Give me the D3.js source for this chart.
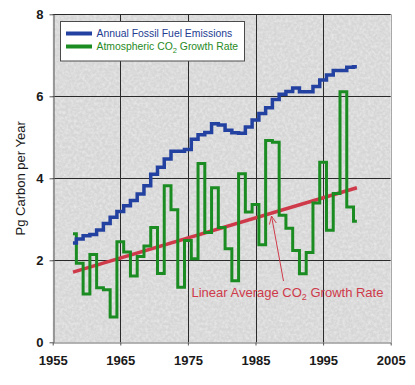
<!DOCTYPE html>
<html>
<head>
<meta charset="utf-8">
<script src="https://cdn.jsdelivr.net/npm/d3@7"></script>
<style>
  body { margin: 0; background: #fff; }
  svg { display: block; font-family: "Liberation Sans", Arial, sans-serif; }
</style>
</head>
<body>
<svg id="chart" width="415" height="385"></svg>
<script>
const years = d3.range(1958, 2001);
const fossilEmissions = [
  2.42, 2.52, 2.60, 2.63, 2.74, 2.90, 3.05, 3.19, 3.33, 3.46,
  3.62, 3.82, 4.10, 4.27, 4.47, 4.66, 4.66, 4.70, 4.95, 5.06,
  5.12, 5.33, 5.30, 5.17, 5.11, 5.10, 5.25, 5.42, 5.58, 5.72,
  5.92, 6.05, 6.12, 6.20, 6.11, 6.11, 6.24, 6.40, 6.52, 6.63,
  6.63, 6.71, 6.72
];
const co2Growth = [
  2.65, 1.93, 1.18, 2.14, 1.33, 1.28, 0.62, 2.45, 2.20, 1.62,
  2.09, 2.35, 2.80, 1.68, 3.82, 3.23, 1.34, 2.48, 2.04, 4.36,
  2.68, 3.77, 2.80, 2.28, 1.50, 4.11, 3.18, 3.36, 2.38, 4.92,
  4.88, 3.10, 2.78, 2.24, 1.67, 2.19, 3.40, 4.39, 2.73, 3.63,
  6.11, 3.30, 2.95
];
const trendYears = [1958, 2000];
const trendValues = [1.71, 3.77];
const xTicks = [1955, 1965, 1975, 1985, 1995, 2005];
const yTicks = [0, 2, 4, 6, 8];
const seriesNames = ['Annual Fossil Fuel Emissions', 'Atmospheric CO', ' Growth Rate'];

const colors = { blue: '#2341a0', green: '#1a8c22', red: '#cf3a4a' };

const svg = d3.select('#chart');
const x = d3.scaleLinear().domain([1955, 2005]).range([52.7, 390.7]);
const y = d3.scaleLinear().domain([0, 8]).range([342.3, 14.3]);

const defs = svg.append('defs');
const paper = defs.append('filter').attr('id', 'paper')
  .attr('x', 0).attr('y', 0).attr('width', 1).attr('height', 1);
paper.append('feTurbulence')
  .attr('type', 'fractalNoise')
  .attr('baseFrequency', 0.35)
  .attr('numOctaves', 3)
  .attr('seed', 7);
paper.append('feColorMatrix')
  .attr('type', 'matrix')
  .attr('values', '0 0 0 0 1  0 0 0 0 1  0 0 0 0 1  1.6 0 0 0 -0.55');

defs.append('marker')
  .attr('id', 'arrow')
  .attr('viewBox', '0 -5 10 10')
  .attr('refX', 9).attr('refY', 0)
  .attr('markerWidth', 9).attr('markerHeight', 9)
  .attr('markerUnits', 'userSpaceOnUse')
  .attr('orient', 'auto')
  .append('path')
  .attr('d', 'M0,-4L9,0L0,4')
  .attr('fill', 'none')
  .attr('stroke', colors.red)
  .attr('stroke-width', 1);

const [x0, x1] = x.range();
const [y0, y1] = y.range();

svg.append('rect')
  .attr('x', x0).attr('y', y1)
  .attr('width', x1 - x0).attr('height', y0 - y1)
  .attr('fill', '#d6d6d6');
svg.append('rect')
  .attr('x', x0).attr('y', y1)
  .attr('width', x1 - x0).attr('height', y0 - y1)
  .attr('filter', 'url(#paper)')
  .attr('opacity', 0.5);

// grid
svg.append('g')
  .selectAll('line.h')
  .data(yTicks.filter((d) => d > 0))
  .join('line')
  .attr('x1', x0).attr('x2', x1)
  .attr('y1', (d) => Math.round(y(d)) + 0.5)
  .attr('y2', (d) => Math.round(y(d)) + 0.5)
  .attr('stroke', '#2a2a2a');
svg.append('g')
  .selectAll('line.v')
  .data(xTicks.slice(1, -1))
  .join('line')
  .attr('x1', (d) => Math.round(x(d)) + 0.5)
  .attr('x2', (d) => Math.round(x(d)) + 0.5)
  .attr('y1', y1).attr('y2', y0)
  .attr('stroke', '#2a2a2a');
svg.append('line')
  .attr('x1', Math.round(x1) + 0.5).attr('x2', Math.round(x1) + 0.5)
  .attr('y1', y1).attr('y2', y0)
  .attr('stroke', '#a8a8a8');

// axes
const xAxis = svg.append('g')
  .attr('transform', `translate(0,${Math.round(y0) + 0.5})`)
  .call(d3.axisBottom(x).tickValues(xTicks).tickFormat(d3.format('d')).tickSize(3).tickPadding(10).tickSizeOuter(0));
const yAxis = svg.append('g')
  .attr('transform', `translate(${Math.round(x0) + 0.5},0)`)
  .call(d3.axisLeft(y).tickValues(yTicks).tickSize(4).tickPadding(6).tickSizeOuter(0));
[xAxis, yAxis].forEach((g) => {
  g.select('.domain').attr('stroke', '#6a6a6a').attr('stroke-width', 1.2);
  g.selectAll('.tick line').attr('stroke', '#555');
  g.selectAll('.tick text')
    .attr('font-family', '"Liberation Sans", Arial, sans-serif')
    .attr('font-size', 13)
    .attr('font-weight', 'bold')
    .attr('fill', '#1a1a1a');
});

svg.append('text')
  .attr('transform', `translate(25,${(y0 + y1) / 2}) rotate(-90)`)
  .attr('text-anchor', 'middle')
  .attr('font-size', 13)
  .attr('fill', '#1a1a1a')
  .text('Pg Carbon per Year');

// series
const step = d3.line()
  .x((d) => x(d[0]))
  .y((d) => y(d[1]))
  .curve(d3.curveStep);

svg.append('path')
  .datum(d3.zip(trendYears, trendValues))
  .attr('d', d3.line().x((d) => x(d[0])).y((d) => y(d[1])))
  .attr('fill', 'none')
  .attr('stroke', colors.red)
  .attr('stroke-width', 3.5);

svg.append('path')
  .datum(d3.zip(years, co2Growth))
  .attr('d', step)
  .attr('fill', 'none')
  .attr('stroke', colors.green)
  .attr('stroke-width', 3)
  .attr('stroke-linejoin', 'miter');

svg.append('path')
  .datum(d3.zip(years, fossilEmissions))
  .attr('d', step)
  .attr('fill', 'none')
  .attr('stroke', colors.blue)
  .attr('stroke-width', 3.5)
  .attr('stroke-linejoin', 'miter');

// annotation
svg.append('line')
  .attr('x1', 283.5).attr('y1', 281)
  .attr('x2', 271.5).attr('y2', 216)
  .attr('stroke', colors.red)
  .attr('stroke-width', 1)
  .attr('marker-end', 'url(#arrow)');

const note = svg.append('text')
  .attr('x', 191.5).attr('y', 296.5)
  .attr('font-size', 13)
  .attr('fill', colors.red);
note.append('tspan').text('Linear Average CO');
note.append('tspan').attr('font-size', 9).attr('dy', 3).text('2');
note.append('tspan').attr('dy', -3).text(' Growth Rate');

// legend
const legend = svg.append('g');
legend.append('rect')
  .attr('x', 60.5).attr('y', 21.5)
  .attr('width', 184).attr('height', 39.5)
  .attr('fill', '#fff')
  .attr('stroke', '#4a4a4a');
legend.append('line')
  .attr('x1', 66).attr('x2', 92)
  .attr('y1', 33.5).attr('y2', 33.5)
  .attr('stroke', colors.blue).attr('stroke-width', 4);
legend.append('line')
  .attr('x1', 66).attr('x2', 92)
  .attr('y1', 46.5).attr('y2', 46.5)
  .attr('stroke', colors.green).attr('stroke-width', 4);
legend.append('text')
  .attr('x', 96.5).attr('y', 37)
  .attr('font-size', 10.4)
  .attr('fill', '#233c92')
  .text(seriesNames[0]);
const lg2 = legend.append('text')
  .attr('x', 96.5).attr('y', 50.3)
  .attr('font-size', 10.4)
  .attr('fill', '#1f8a25');
lg2.append('tspan').text(seriesNames[1]);
lg2.append('tspan').attr('font-size', 7.5).attr('dy', 2.5).text('2');
lg2.append('tspan').attr('dy', -2.5).text(seriesNames[2]);
</script>
</body>
</html>
